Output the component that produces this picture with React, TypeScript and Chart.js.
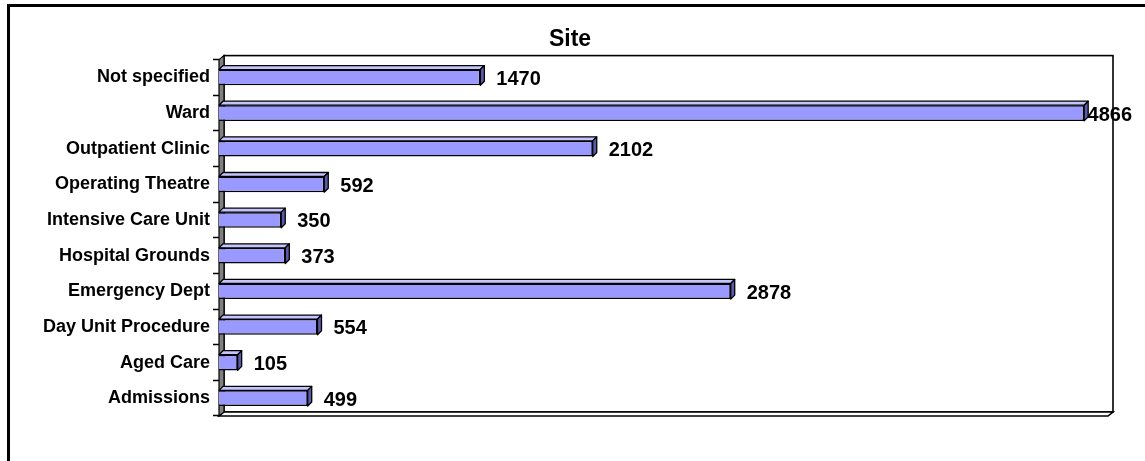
import React, { useEffect, useRef } from "react";
import { Chart, registerables } from "chart.js";

Chart.register(...registerables);

// ---- data ----
const categories = [
  "Not specified",
  "Ward",
  "Outpatient Clinic",
  "Operating Theatre",
  "Intensive Care Unit",
  "Hospital Grounds",
  "Emergency Dept",
  "Day Unit Procedure",
  "Aged Care",
  "Admissions",
];
const counts = [1470, 4866, 2102, 592, 350, 373, 2878, 554, 105, 499];
const valueAxisMax = 5000;
const chartTitle = "Site";

// ---- layout / style ----
const W = 1145;
const H = 461;
const PAD_LEFT = 32;
const AREA_LEFT = 219;
const AREA_RIGHT = 1108;
const AREA_BOTTOM = 416;
const WALL_DX = 5;
const WALL_DY = 4;
const BAR_D = 4;
const FONT = "'Liberation Sans', Arial, sans-serif";
const FRONT = "#9999FF";
const TOPFACE = "#C4C4FF";
const SIDEFACE = "#5A5AAA";

const depthPlugin = {
  id: "depth3d",
  beforeDraw(chart: any) {
    const ctx = chart.ctx;
    ctx.save();
    ctx.fillStyle = "#000";
    ctx.fillRect(7, 4, 3, H);
    ctx.fillRect(7, 4, W, 3);
    ctx.restore();
  },
  beforeDatasetsDraw(chart: any) {
    const { ctx, chartArea: a } = chart;
    const L = a.left, R = a.right, T = a.top, B = a.bottom;
    ctx.save();
    ctx.strokeStyle = "#000";
    ctx.lineWidth = 1.6;
    // back wall
    ctx.strokeRect(L + WALL_DX, T - WALL_DY, R - L, B - T);
    // floor
    ctx.beginPath();
    ctx.moveTo(L, B);
    ctx.lineTo(L + WALL_DX, B - WALL_DY);
    ctx.lineTo(R + WALL_DX, B - WALL_DY);
    ctx.lineTo(R, B);
    ctx.closePath();
    ctx.fillStyle = "#fff";
    ctx.fill();
    ctx.stroke();
    // left wall
    ctx.beginPath();
    ctx.moveTo(L, T);
    ctx.lineTo(L + WALL_DX, T - WALL_DY);
    ctx.lineTo(L + WALL_DX, B - WALL_DY);
    ctx.lineTo(L, B);
    ctx.closePath();
    ctx.fillStyle = "#808080";
    ctx.fill();
    ctx.lineWidth = 1.2;
    ctx.stroke();
    ctx.restore();
  },
  afterDatasetsDraw(chart: any) {
    const ctx = chart.ctx;
    const meta = chart.getDatasetMeta(0);
    const ds = chart.data.datasets[0];
    ctx.save();
    ctx.strokeStyle = "#000";
    ctx.lineWidth = 1.3;
    ctx.lineJoin = "round";
    meta.data.forEach((bar: any, i: number) => {
      const p = bar.getProps(["x", "y", "base", "height"], true);
      const top = p.y - p.height / 2;
      const bot = p.y + p.height / 2;
      const d = BAR_D;
      // top face
      ctx.beginPath();
      ctx.moveTo(p.base, top);
      ctx.lineTo(p.base + d, top - d);
      ctx.lineTo(p.x + d, top - d);
      ctx.lineTo(p.x, top);
      ctx.closePath();
      ctx.fillStyle = TOPFACE;
      ctx.fill();
      ctx.stroke();
      // right face
      ctx.beginPath();
      ctx.moveTo(p.x, top);
      ctx.lineTo(p.x + d, top - d);
      ctx.lineTo(p.x + d, bot - d);
      ctx.lineTo(p.x, bot);
      ctx.closePath();
      ctx.fillStyle = SIDEFACE;
      ctx.fill();
      ctx.stroke();
      // value label
      const txt = String(ds.data[i]);
      ctx.font = `bold 20px ${FONT}`;
      ctx.fillStyle = "#000";
      ctx.textBaseline = "middle";
      ctx.textAlign = "left";
      const tw = ctx.measureText(txt).width;
      const lx = Math.min(p.x + 16, W - 13 - tw);
      ctx.fillText(txt, lx, p.y + 2);
    });
    ctx.restore();
  },
};

export default function App() {
  const ref = useRef<HTMLCanvasElement | null>(null);
  useEffect(() => {
    if (!ref.current) return;
    const chart = new Chart(ref.current, {
      type: "bar",
      data: {
        labels: categories,
        datasets: [
          {
            data: counts,
            backgroundColor: FRONT,
            borderColor: "#000",
            borderWidth: 1.5,
            barPercentage: 0.44,
            categoryPercentage: 1,
          },
        ],
      },
      options: {
        indexAxis: "y",
        responsive: false,
        animation: false,
        devicePixelRatio: 1,
        layout: {
          padding: { left: PAD_LEFT, right: W - AREA_RIGHT, top: 0, bottom: H - AREA_BOTTOM },
        },
        plugins: {
          legend: { display: false },
          tooltip: { enabled: false },
          title: {
            display: true,
            text: chartTitle,
            color: "#000",
            font: { family: FONT, size: 23, weight: "bold" },
            padding: { top: 26, bottom: 6 },
          },
        },
        scales: {
          x: { display: false, min: 0, max: valueAxisMax },
          y: {
            grid: {
              display: true,
              drawOnChartArea: false,
              drawTicks: true,
              tickLength: 6,
              tickWidth: 1.5,
              tickColor: "#000",
              color: "#000",
              offset: true,
            },
            border: { display: false },
            ticks: {
              color: "#000",
              autoSkip: false,
              padding: 3,
              font: { family: FONT, size: 18, weight: "bold" },
            },
            afterFit(scale: any) {
              scale.width = AREA_LEFT - PAD_LEFT;
            },
          },
        },
      } as any,
      plugins: [depthPlugin],
    });
    return () => chart.destroy();
  }, []);
  return (
    <div style={{ position: "absolute", left: 0, top: 0, width: W, height: H }}>
      <canvas ref={ref} width={W} height={H} style={{ display: "block" }} />
    </div>
  );
}
